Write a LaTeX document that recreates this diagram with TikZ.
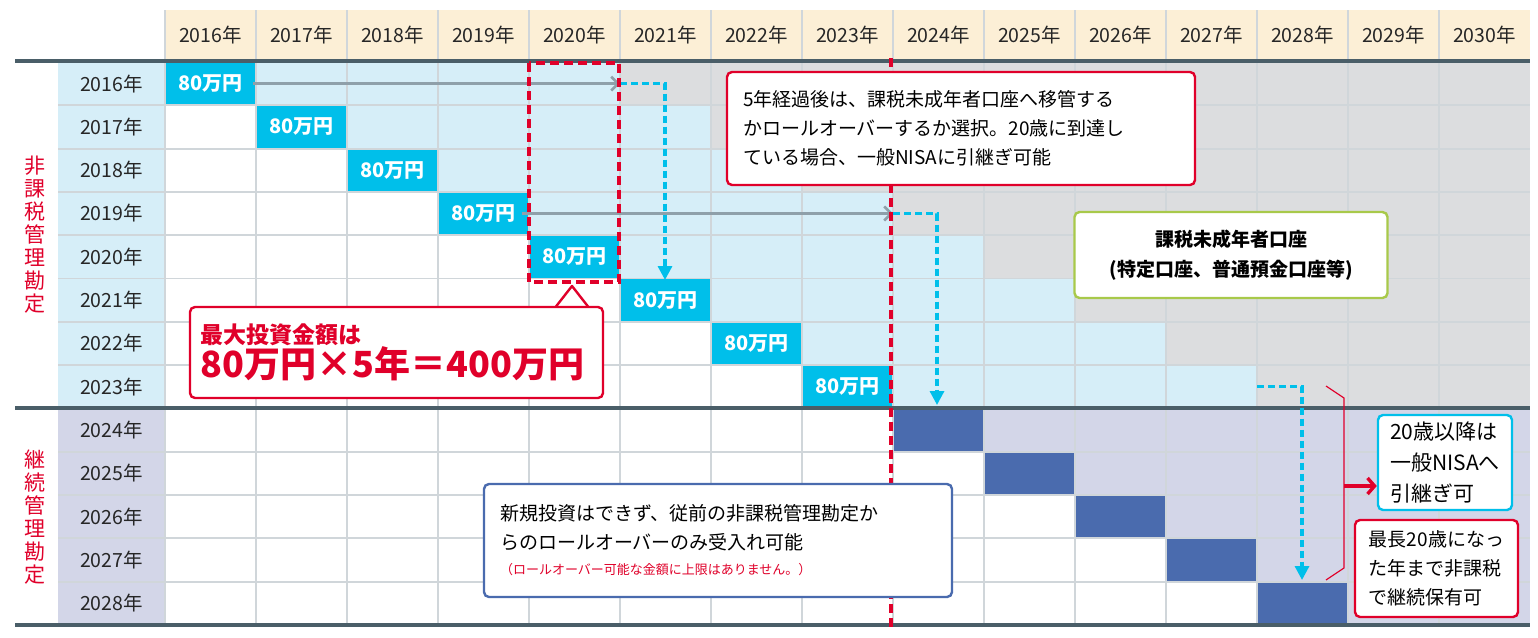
\documentclass[tikz,border=0pt]{standalone}
\usepackage{fontspec}
\setmainfont{Noto Sans CJK JP}
\usepackage{tikz}
\usetikzlibrary{arrows.meta}
\definecolor{headc}{HTML}{FCEFD6}
\definecolor{lightc}{HTML}{D6EEF8}
\definecolor{cyanc}{HTML}{00BFEA}
\definecolor{grayc}{HTML}{DCDDDF}
\definecolor{lavc}{HTML}{D3D6E8}
\definecolor{darkc}{HTML}{4A6BAE}
\definecolor{gridc}{HTML}{D0D6DA}
\definecolor{rulec}{HTML}{4A5E68}
\definecolor{redc}{HTML}{E0002A}
\definecolor{greenc}{HTML}{A8C94A}
\definecolor{arrowc}{HTML}{8FA0AA}
\newcommand{\fsz}[2]{\fontsize{#1}{#2}\selectfont}
\tikzset{
    tnode/.style = {align=center, inner sep=0pt, text centered},
    amt_node/.style = {tnode, white, font=\fsz{20}{22}\bfseries},
    year_node/.style = {tnode, font=\fsz{19.5}{22}, text=black!85},
    box_node/.style = {rounded corners=5pt, fill=white, line width=2.4pt, inner sep=0pt, font=\fsz{19}{29}},
    gray_arrow/.style = {draw=arrowc, line width=2.6pt, -{Straight Barb[length=7pt,width=14pt]}},
    cyan_arrow/.style = {draw=cyanc, line width=3.2pt, dash pattern=on 7pt off 4pt, -{Triangle[length=14pt,width=14pt]}},
    red_dash/.style = {draw=redc, line width=3.8pt, dash pattern=on 9pt off 5pt}
}

\begin{document}
\begin{tikzpicture}[x=1pt, y=-1pt]
    \useasboundingbox (0,0) rectangle (1538,637);

    % header
    \fill[headc] (165,10) rectangle (1530,59);
    \foreach \c in {0,...,14}{
        \pgfmathtruncatemacro{\yr}{2016+\c}
        \node[year_node] (h\c) at ({210.5+91*\c},35) {\yr 年};
    }

    % rows of the first period
    \foreach \r in {0,...,7}{
        \fill[lightc] (58,{62+43.3*\r}) rectangle (165,{62+43.3*(\r+1)});
        \fill[cyanc] ({165+91*\r},{62+43.3*\r}) rectangle ({256+91*\r},{62+43.3*(\r+1)});
        \fill[lightc] ({256+91*\r},{62+43.3*\r}) rectangle ({620+91*\r},{62+43.3*(\r+1)});
        \fill[grayc] ({620+91*\r},{62+43.3*\r}) rectangle (1530,{62+43.3*(\r+1)});
    }
    % rows of the second period
    \foreach \r in {8,...,12}{
        \fill[lavc] (58,{62+43.3*\r}) rectangle (165,{62+43.3*(\r+1)});
        \fill[darkc] ({165+91*\r},{62+43.3*\r}) rectangle ({256+91*\r},{62+43.3*(\r+1)});
        \fill[lavc] ({256+91*\r},{62+43.3*\r}) rectangle (1530,{62+43.3*(\r+1)});
    }

    % grid
    \foreach \c in {0,...,14}
        \draw[gridc, line width=1.8pt] ({165+91*\c},10) -- ({165+91*\c},625);
    \foreach \r in {1,...,12}
        \draw[gridc, line width=1.8pt] (58,{62+43.3*\r}) -- (1530,{62+43.3*\r});
    \foreach \yy in {61,408,625}
        \draw[rulec, line width=3.8pt] (15,\yy) -- (1530,\yy);

    % year labels and amounts
    \foreach \r in {0,...,12}{
        \pgfmathtruncatemacro{\yr}{2016+\r}
        \node[year_node] (y\r) at (111.5,{83.6+43.3*\r}) {\yr 年};
    }
    \foreach \r in {0,...,7}
        \node[amt_node] (a\r) at ({210.5+91*\r},{83.6+43.3*\r}) {80万円};

    \node[tnode, redc, font=\fsz{21}{23}] (tax_free) at (35,235) {非\\課\\税\\管\\理\\勘\\定};
    \node[tnode, redc, font=\fsz{21}{23}] (carry_on) at (35,517) {継\\続\\管\\理\\勘\\定};

    % rollover arrows
    \coordinate (t0) at (620,83.6);
    \coordinate (t3) at (893,213.5);
    \coordinate (t7) at (1257,386.7);
    \draw[gray_arrow] ([xshift=10pt]a0.east) -- (t0);
    \draw[gray_arrow] ([xshift=6pt]a3.east) -- (t3);
    \draw[cyan_arrow] (t0) -- (665,83.6) -- (665,280);
    \draw[cyan_arrow] (t3) -- (937,213.5) -- (937,405);
    \draw[cyan_arrow] (t7) -- (1302,386.7) -- (1302,580);

    % red dashed marks
    \draw[red_dash] (891,58) -- (891,627);
    \draw[red_dash] (529,63) rectangle (619,282);

    % notes
    \node[box_node, draw=redc, minimum width=468pt, minimum height=113pt, text width=436pt, align=left] (note_move) at (961,128.5)
        {5年経過後は、課税未成年者口座へ移管する\\かロールオーバーするか選択。20歳に到達し\\ている場合、一般NISAに引継ぎ可能};
    \node[box_node, draw=greenc, minimum width=313pt, minimum height=86pt, align=center, font=\fsz{19}{30}\bfseries] (note_acc) at (1231,255)
        {課税未成年者口座\\(特定口座、普通預金口座等)};
    \node[box_node, draw=redc, minimum width=413pt, minimum height=91pt, text width=392pt, align=left, text=redc] (note_max) at (396.5,352.5)
        {{\fsz{23}{26}\bfseries 最大投資金額は}\\{\fsz{36}{42}\bfseries 80万円×5年＝400万円}};
    \fill[white] (556,304) -- (572,286) -- (588,304) -- cycle;
    \draw[redc, line width=2.4pt, line join=round] (556,306.5) -- (572,286) -- (588,306.5);
    \node[box_node, draw=darkc, minimum width=468pt, minimum height=113pt, text width=436pt, align=left] (note_new) at (718,540.5)
        {新規投資はできず、従前の非課税管理勘定か\\らのロールオーバーのみ受入れ可能\\[-4pt]{\fsz{13}{15}\color{redc}（ロールオーバー可能な金額に上限はありません。）}};
    \node[box_node, draw=cyanc, minimum width=134pt, minimum height=95pt, align=left, font=\fsz{21}{31}] (note_adult) at (1445,462.5)
        {20歳以降は\\一般NISAへ\\引継ぎ可};
    \node[box_node, draw=redc, minimum width=163pt, minimum height=97pt, align=left, font=\fsz{19}{29}] (note_keep) at (1436.5,568.5)
        {最長20歳になっ\\た年まで非課税\\で継続保有可};

    % bracket
    \coordinate (br_top) at (1326,386);
    \coordinate (br_bot) at (1326,580);
    \draw[redc, line width=1.2pt] (br_top) -- (1344,398) -- (1344,568) -- (br_bot);
    \draw[redc, line width=3.4pt, -{Straight Barb[length=7pt,width=16pt]}] (1344,486) -- (note_adult.west |- 0,486);
\end{tikzpicture}
\end{document}
